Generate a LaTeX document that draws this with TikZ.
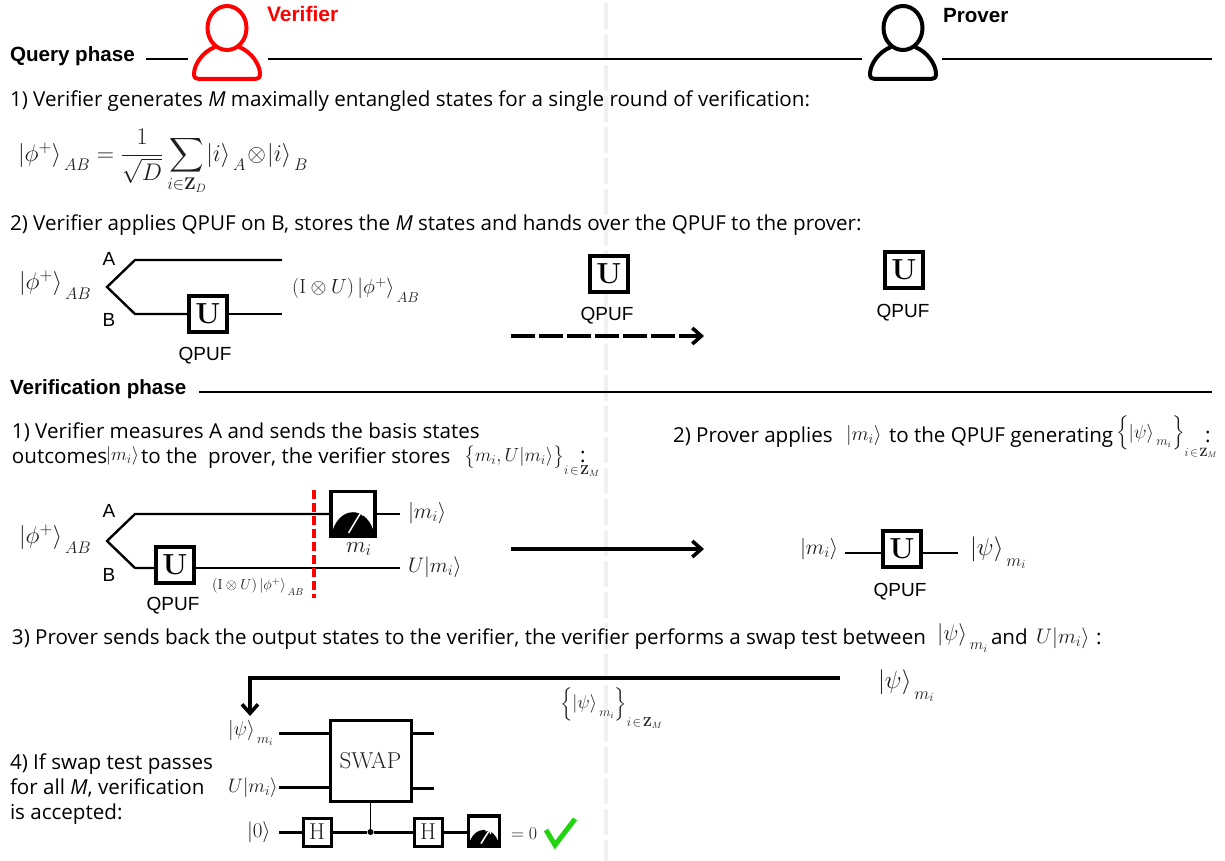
\RequirePackage{fix-cm}
\documentclass[tikz,border=0pt]{standalone}
\usepackage{amsmath,amssymb}
\usepackage[no-math]{fontspec}
\setmainfont{Liberation Sans}
\newfontfamily\bodyf{Open Sans}
\usetikzlibrary{arrows.meta,calc}
\definecolor{mathgray}{HTML}{1E1E1E}
\definecolor{sepgray}{HTML}{F1F1F1}
\definecolor{checkgreen}{HTML}{22D30F}
\newcommand{\sz}[1]{\fontsize{#1}{#1}\selectfont}
\newcommand{\mk}[1]{\lvert #1\rangle}
\newcommand{\ls}[1]{\,\raisebox{-.5ex}{$\scriptstyle #1$}}
\newcommand{\psim}{\mk{\psi}_{\ls{m_i}}}
\newcommand{\phiab}{\mk{\phi^{+}}_{\ls{AB}}}
\newcommand{\zmt}[1]{\raisebox{-.5ex}{\sz{#1}$i\!\in\!\mathbf{Z}_{M}$}}
\tikzset{
  x=1pt,y=-1pt,
  txt/.style={anchor=base west,inner sep=0pt,outer sep=0pt,font=\bodyf\sz{20.6},text=black},
  head/.style={anchor=base west,inner sep=0pt,outer sep=0pt,font=\sz{20.6}\bfseries,text=black},
  lab/.style={inner sep=0pt,outer sep=0pt,font=\sz{19},text=black},
  mth/.style={anchor=west,inner sep=0pt,outer sep=0pt,text=mathgray},
  wire/.style={line width=2.4pt,draw=black},
  rule/.style={line width=2.4pt,draw=black},
  ubox/.style={draw=black,line width=3.4pt,fill=white,inner sep=0pt,font=\sz{29},minimum width=38pt,minimum height=36pt},
  gate/.style={draw=black,line width=3pt,fill=white,inner sep=0pt,font=\sz{23},text=mathgray},
  meterbox/.style={draw=black,line width=3.6pt,fill=white,inner sep=0pt},
  bigarrow/.style={line width=4pt,draw=black,-{Straight Barb[length=9pt,width=16pt,line width=3.6pt]}},
  person/.style={line width=4pt,fill=none},
  dot/.style={circle,fill=black,inner sep=0pt,minimum size=6pt},
}
\newcommand{\meter}[5]{% name, cx, cy, w, h
  \node[meterbox,minimum width=#4pt,minimum height=#5pt] (#1) at (#2,#3) {};
  \fill[black] ($(#2,#3)+(-#4/2,#5/2)$) .. controls ($(#2,#3)+(-#4/2+#4*0.14,-#5*0.22)$) and ($(#2,#3)+(#4/2-#4*0.14,-#5*0.22)$) .. ($(#2,#3)+(#4/2,#5/2)$) -- cycle;
  \draw[white,line width=1.5pt,-{Straight Barb[length=4pt,width=6pt]}] ($(#2,#3)+(-#4*0.1,#5*0.42)$) -- ($(#2,#3)+(#4*0.22,-#5*0.1)$);
}
\newcommand{\persona}[3]{% cx offset, colour, name
  \draw[person,draw=#2] (#1,28) ellipse [x radius=19.5pt,y radius=22pt];
  \draw[person,draw=#2,line join=round] (#1-12,47) .. controls (#1-25,52) and (#1-33,65) .. (#1-33,74) .. controls (#1-33,78) and (#1-31,79) .. (#1-28,79) -- (#1+28,79) .. controls (#1+31,79) and (#1+33,78) .. (#1+33,74) .. controls (#1+33,65) and (#1+25,52) .. (#1+12,47);
}
\begin{document}
\begin{tikzpicture}
\useasboundingbox (0,0) rectangle (1225,861);
\fill[white] (0,0) rectangle (1225,861);
% centre separator
\draw[sepgray,line width=4pt,dash pattern=on 26pt off 5pt] (606,3) -- (606,861);

% header
\persona{227}{red}{v}
\persona{903}{black}{p}
\node[head,text=red,font=\sz{21}\bfseries] (verifier) at (267,22) {Verifier};
\node[head] (prover) at (943,23) {Prover};
\node[head] (qphase) at (10,62) {Query phase};
\coordinate (q1) at (146,59); \coordinate (q2) at (188,59);
\coordinate (q3) at (268,59); \coordinate (q4) at (862,59);
\coordinate (q5) at (942,59); \coordinate (q6) at (1212,59);
\draw[rule] (q1)--(q2) (q3)--(q4) (q5)--(q6);

% step 1
\node[txt] (s1) at (10,107) {1) Verifier generates \textit{M} maximally entangled states for a single round of verification:};
\node[mth,font=\sz{24}] (eq) at (18,162) {$\mk{\phi^{+}}_{\ls{AB}}=\dfrac{1}{\sqrt{D}}\displaystyle\sum_{i\in\mathbf{Z}_{D}}\mk{i}_{\ls{A}}\!\otimes\!\mk{i}_{\ls{B}}$};

% step 2
\node[txt] (s2) at (10,230) {2) Verifier applies QPUF on B, stores the \textit{M} states and hands over the QPUF to the prover:};
\node[mth,font=\sz{24}] (ph1) at (19,285) {$\phiab$};
\node[lab] (a1) at (109,259) {A};
\node[lab] (b1) at (109,320) {B};
\coordinate (t1) at (107,287);
\coordinate (a1s) at (135,260); \coordinate (a1e) at (282,260);
\coordinate (b1s) at (135,314); \coordinate (b1e) at (282,314);
\node[ubox] (u1) at (208,314) {$\mathbf{U}$};
\draw[wire,line join=miter] (a1e)--(a1s)--(t1)--(b1s)--(u1);
\draw[wire] (u1)--(b1e);
\node[lab] (q1l) at (205,356) {QPUF};
\node[mth,font=\sz{20.5}] (iu1) at (292,290) {$(\mathrm{I}\otimes U)\,\phiab$};

\node[ubox] (u2) at (609,274) {$\mathbf{U}$};
\node[lab] (q2l) at (607,316) {QPUF};
\coordinate (d1) at (511,336); \coordinate (d2) at (704,336);
\draw[bigarrow,dash pattern=on 24pt off 4pt] (d1)--(d2);
\node[ubox] (u3) at (904,270) {$\mathbf{U}$};
\node[lab] (q3l) at (903,313) {QPUF};

% verification phase
\node[head] (vphase) at (10,394) {Verification phase};
\coordinate (v1) at (199,392); \coordinate (v2) at (1212,392);
\draw[rule] (v1)--(v2);

\node[txt] (v1a) at (12,438) {1) Verifier measures A and sends the basis states};
\node[txt] (v1b) at (12,463) {outcomes};
\node[mth,font=\sz{18.5}] (v1k) at (106,456) {$\mk{m_i}$};
\node[txt] (v1c) at (141,463) {to the\ \ prover, the verifier stores};
\node[mth,font=\sz{19}] (v1s) at (464,461) {$\bigl\{m_i,U\mk{m_i}\bigr\}_{\zmt{13}}$};
\node[txt] (v1d) at (580,462) {:};
\node[txt] (v2a) at (673,442) {2) Prover applies};
\node[mth,font=\sz{20}] (v2k) at (846,435) {$\mk{m_i}$};
\node[txt] (v2b) at (889,442) {to the QPUF generating};
\node[mth,font=\sz{19}] (v2s) at (1116,437) {$\Bigl\{\psim\Bigr\}_{\zmt{12}}$};
\node[txt] (v2c) at (1205,442) {:};

% verification circuit
\node[mth,font=\sz{24}] (ph2) at (19,539) {$\phiab$};
\node[lab] (a2) at (109,511) {A};
\node[lab] (b2) at (109,575) {B};
\coordinate (t2) at (107,541);
\coordinate (a2s) at (135,514);
\coordinate (b2s) at (135,568); \coordinate (b2e) at (400,568);
\coordinate (a2e) at (400,514);
\node[ubox] (u4) at (175,565) {$\mathbf{U}$};
\meter{m1}{353}{514}{44}{45}
\draw[wire] (m1.east |- a2e)--(a2e);
\draw[wire] (m1.west |- a2s) -- (a2s) -- (t2) -- (b2s) -- (u4.west |- b2s);
\draw[wire] (u4.east |- b2s) -- (b2e);
\node[lab] (q4l) at (173,606) {QPUF};
\coordinate (r1) at (314,490); \coordinate (r2) at (314,598);
\draw[red,line width=3.4pt,dash pattern=on 9pt off 4pt] (r1)--(r2);
\node[mth,font=\sz{21.5}] (mi1) at (408,513) {$\mk{m_i}$};
\node[mth,font=\sz{21}] (mi2) at (408,567) {$U\mk{m_i}$};
\node[mth,font=\sz{23}] (mi3) at (346,549) {$m_i$};
\node[mth,font=\sz{14.5}] (iu2) at (212,587) {$(\mathrm{I}\otimes U)\,\phiab$};
\coordinate (ar1) at (511,549); \coordinate (ar2) at (704,549);
\draw[bigarrow] (ar1)--(ar2);

% right circuit
\node[mth,font=\sz{21.5}] (mi4) at (800,549) {$\mk{m_i}$};
\node[ubox] (u5) at (902,549) {$\mathbf{U}$};
\coordinate (w1) at (845,553); \coordinate (w2) at (958,553);
\draw[wire] (w1)--(u5.west |- w1) (u5.east |- w2)--(w2);
\node[mth,font=\sz{25}] (ps1) at (970,553) {$\psim$};
\node[lab] (q5l) at (900,592) {QPUF};

% step 3
\node[txt] (s3) at (12,644) {3) Prover sends back the output states to the verifier, the verifier performs a swap test between};
\node[mth,font=\sz{22.5}] (s3k) at (937,638) {$\psim$};
\node[txt] (s3a) at (991,644) {and};
\node[mth,font=\sz{21}] (s3u) at (1036,638) {$U\mk{m_i}$};
\node[txt] (s3c) at (1096,644) {:};
\coordinate (b1a) at (840,678); \coordinate (b2a) at (250,678); \coordinate (b3a) at (250,716);
\draw[bigarrow,line join=miter] (b1a)--(b2a)--(b3a);
\node[mth,font=\sz{25}] (ps2) at (878,686) {$\psim$};
\node[mth,font=\sz{18.5}] (ps3) at (560,708) {$\Bigl\{\psim\Bigr\}_{\zmt{13}}$};

% swap circuit
\node[mth,font=\sz{20}] (sp1) at (228,733) {$\psim$};
\node[mth,font=\sz{19.5}] (sp2) at (228,788) {$U\mk{m_i}$};
\node[mth,font=\sz{21}] (sp3) at (247,832) {$\mk{0}$};
\node[gate,minimum width=81pt,minimum height=81pt,line width=3pt] (swap) at (370.5,761) {$\mathrm{SWAP}$};
\coordinate (i1) at (279,733); \coordinate (i2) at (279,787); \coordinate (i3) at (279,832);
\coordinate (o1) at (434,733); \coordinate (o2) at (434,788);
\draw[wire,line width=3pt] (i1)--(swap.west |- i1) (i2)--(swap.west |- i2) (swap.east |- o1)--(o1) (swap.east |- o2)--(o2);
\node[gate,minimum width=28pt,minimum height=28pt] (h1) at (317,832) {$\mathrm{H}$};
\node[gate,minimum width=28pt,minimum height=28pt] (h2) at (428,832) {$\mathrm{H}$};
\node[dot] (ctl) at (370.5,832) {};
\meter{m2}{484}{831}{31}{30}
\draw[wire,line width=3pt] (i3)--(h1) (h1)--(ctl) (ctl)--(h2) (h2)--(m2.west |- h2);
\draw[wire,line width=1.6pt] (swap)--(ctl);
\node[mth,font=\sz{18}] (eq0) at (511,834) {$=0$};
\coordinate (c1) at (546,830); \coordinate (c2) at (555,845); \coordinate (c3) at (575,819);
\draw[checkgreen,line width=5pt,line join=miter] (c1)--(c2)--(c3);

% step 4
\node[txt] (s4a) at (10,769) {4) If swap test passes};
\node[txt] (s4b) at (10,794) {for all \textit{M}, verification};
\node[txt] (s4c) at (10,819) {is accepted:};
\end{tikzpicture}
\end{document}
